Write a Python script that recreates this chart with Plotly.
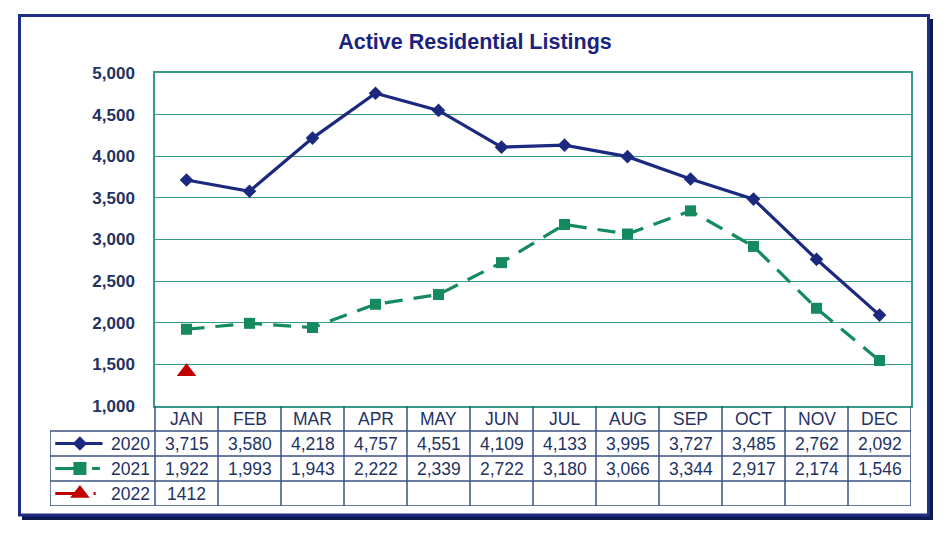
import plotly.graph_objects as go

months = ["JAN", "FEB", "MAR", "APR", "MAY", "JUN", "JUL", "AUG", "SEP", "OCT", "NOV", "DEC"]
v2020 = [3715, 3580, 4218, 4757, 4551, 4109, 4133, 3995, 3727, 3485, 2762, 2092]
v2021 = [1922, 1993, 1943, 2222, 2339, 2722, 3180, 3066, 3344, 2917, 2174, 1546]
v2022 = [1412]
labels2022 = ["1412"]
y_ticks = [1000, 1500, 2000, 2500, 3000, 3500, 4000, 4500, 5000]

W, H = 950, 533
ML, MR, MT, MB = 50, 39, 73, 27
plot_w = W - ML - MR
plot_h = H - MT - MB
legend_col_px = 105
table_px = 100
col_px = (plot_w - legend_col_px) / 12.0
x_dom_left = legend_col_px / plot_w
y_dom_bottom = table_px / plot_h
x2_min = -0.5 - legend_col_px / col_px

NAVY = "#1b2a7e"
GREEN = "#148a5e"
RED = "#c00000"
TEAL = "#3a9a8a"
GRID_T = "#3c5283"
TXT = "#1f3264"
FONT = "Liberation Sans, Arial"

xs = list(range(12))
fig = go.Figure()
fig.add_trace(go.Scatter(x=xs, y=v2020, mode="lines+markers",
                         line=dict(color=NAVY, width=3.2),
                         marker=dict(symbol="diamond", size=10.5, color=NAVY),
                         showlegend=False, cliponaxis=False))
fig.add_trace(go.Scatter(x=xs, y=v2021, mode="lines+markers",
                         line=dict(color=GREEN, width=3.2, dash="18px,11px"),
                         marker=dict(symbol="square", size=11, color=GREEN),
                         showlegend=False, cliponaxis=False))
fig.add_trace(go.Scatter(x=xs[:len(v2022)], y=v2022, mode="lines+markers",
                         line=dict(color=RED, width=3, dash="dot"),
                         marker=dict(symbol="triangle-up", size=17, color=RED),
                         showlegend=False, cliponaxis=False))

rows = [("2020", v2020, NAVY, "diamond", 11, None),
        ("2021", v2021, GREEN, "square", 13, "dash"),
        ("2022", labels2022, RED, "triangle-up", 17, "dot")]

shapes = []
annotations = []
for yv in [3, 2, 1, 0]:
    shapes.append(dict(type="line", xref="x2", yref="y2", x0=x2_min, x1=11.5, y0=yv, y1=yv,
                       line=dict(color=GRID_T, width=1.5)))
for i in range(13):
    xv = i - 0.5
    shapes.append(dict(type="line", xref="x2", yref="y2", x0=xv, x1=xv, y0=0, y1=4,
                       line=dict(color=GRID_T, width=1.5)))
shapes.append(dict(type="line", xref="x2", yref="y2", x0=x2_min, x1=x2_min, y0=0, y1=3,
                   line=dict(color=GRID_T, width=1.5)))

for i, m in enumerate(months):
    annotations.append(dict(x=i, y=3.5, xref="x2", yref="y2", text=m, showarrow=False,
                            font=dict(size=17.5, color=TXT, family=FONT)))

fmt = lambda v: v if isinstance(v, str) else f"{v:,}"
span = -0.5 - x2_min
for r, (name, vals, color, sym, msize, dash) in enumerate(rows):
    yc = 2.5 - r
    annotations.append(dict(x=-0.5 - 0.03 * span, y=yc, xref="x2", yref="y2", text=name,
                            showarrow=False, xanchor="right",
                            font=dict(size=17.5, color=TXT, family=FONT)))
    for i, v in enumerate(vals):
        annotations.append(dict(x=i, y=yc, xref="x2", yref="y2", text=fmt(v), showarrow=False,
                                font=dict(size=17.5, color=TXT, family=FONT)))
    x_a = x2_min + 0.05 * span
    x_m = x2_min + 0.285 * span
    x_b = x2_min + 0.50 * span
    if dash is None:
        fig.add_trace(go.Scatter(x=[x_a, x_b], y=[yc, yc], xaxis="x2", yaxis="y2", mode="lines",
                                 line=dict(color=color, width=3), showlegend=False, hoverinfo="skip"))
    else:
        fig.add_trace(go.Scatter(x=[x_a, x_m], y=[yc, yc], xaxis="x2", yaxis="y2", mode="lines",
                                 line=dict(color=color, width=3), showlegend=False, hoverinfo="skip"))
        if dash == "dash":
            xd0, xd1 = x2_min + 0.40 * span, x2_min + 0.475 * span
        else:
            xd0, xd1 = x2_min + 0.415 * span, x2_min + 0.435 * span
        fig.add_trace(go.Scatter(x=[xd0, xd1], y=[yc, yc], xaxis="x2", yaxis="y2", mode="lines",
                                 line=dict(color=color, width=3), showlegend=False, hoverinfo="skip"))
    fig.add_trace(go.Scatter(x=[x_m], y=[yc], xaxis="x2", yaxis="y2", mode="markers",
                             marker=dict(symbol=sym, size=msize, color=color),
                             showlegend=False, hoverinfo="skip"))

def px_x(p):
    return (p - ML) / plot_w

def px_y(p):
    return (H - MB - p) / plot_h

shapes.append(dict(type="line", xref="paper", yref="paper",
                   x0=px_x(931), x1=px_x(931), y0=px_y(19), y1=px_y(518),
                   line=dict(color="#0d1a4d", width=4)))
shapes.append(dict(type="line", xref="paper", yref="paper",
                   x0=px_x(22), x1=px_x(933), y0=px_y(518), y1=px_y(518),
                   line=dict(color="#0d1a4d", width=4)))
shapes.append(dict(type="rect", xref="paper", yref="paper",
                   x0=px_x(19.5), x1=px_x(928.5), y0=px_y(515), y1=px_y(15.5),
                   line=dict(color="#1e2f86", width=3)))

fig.update_layout(
    width=W, height=H,
    margin=dict(l=ML, r=MR, t=MT, b=MB),
    paper_bgcolor="white", plot_bgcolor="white",
    title=dict(text="<b>Active Residential Listings</b>", x=0.5, xanchor="center",
               y=1 - 41 / H, yanchor="middle",
               font=dict(size=21.5, color="#1a237e", family=FONT)),
    xaxis=dict(domain=[x_dom_left, 1], range=[-0.5, 11.5], showticklabels=False,
               showgrid=False, zeroline=False, showline=True, mirror=True,
               linecolor=TEAL, linewidth=1.5, ticks=""),
    yaxis=dict(domain=[y_dom_bottom, 1], range=[1000, 5000], tickvals=y_ticks,
               tickformat=",", showgrid=True, gridcolor=TEAL, gridwidth=1.2,
               zeroline=False, showline=True, mirror=True, linecolor=TEAL, linewidth=1.5,
               ticks="", ticklabelstandoff=15,
               tickfont=dict(size=17, color=TXT, family=FONT, weight="bold")),
    xaxis2=dict(domain=[0, 1], range=[x2_min, 11.5], visible=False, anchor="y2"),
    yaxis2=dict(domain=[0, y_dom_bottom], range=[0, 4], visible=False, anchor="x2"),
    shapes=shapes, annotations=annotations,
)

fig.write_html("out.html", config={"displayModeBar": False},
               post_script="document.body.style.margin='0px';")
